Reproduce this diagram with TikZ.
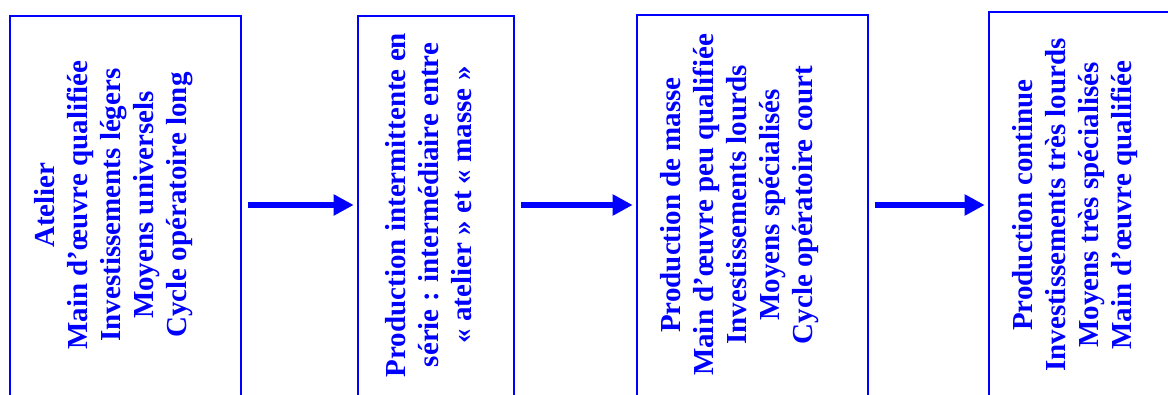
\documentclass[tikz,border=0pt]{standalone}
\usepackage{fontspec}
\setmainfont{Liberation Serif}
\usetikzlibrary{arrows.meta,positioning}
\definecolor{flowblue}{HTML}{0000FF}

\begin{document}
\begin{tikzpicture}[x=1pt,y=1pt,
  stage/.style={draw=flowblue,line width=1.6pt,minimum height=420pt,inner sep=0pt,anchor=north},
  stagetext/.style={rotate=90,text=flowblue,align=center,
    font=\fontsize{29}{33}\selectfont\bfseries},
  flow/.style={draw=flowblue,line width=6pt,-{Triangle[length=20pt,width=20pt]},
    shorten <=6pt,shorten >=3.5pt}]
  \useasboundingbox (0,0) rectangle (1168,394);
  \clip (0,0) rectangle (1168,394);
  % the four stages
  \node[stage,minimum width=231pt] (atelier) at (125.5,379) {};
  \node[stage,minimum width=156pt] (serie) at (436,379) {};
  \node[stage,minimum width=231pt] (masse) at (752.5,380) {};
  \node[stage,minimum width=231pt] (continue) at (1104.5,383) {};
  % texts
  \node[stagetext] (ateliertxt) at ([xshift=-12pt,yshift=-190pt]atelier.north)
    {Atelier\\Main d’œuvre qualifiée\\Investissements légers\\Moyens universels\\Cycle opératoire long};
  \node[stagetext] (serietxt) at ([xshift=-7pt,yshift=-190pt]serie.north)
    {Production intermittente en\\série : intermédiaire entre\\« atelier » et « masse »};
  \node[stagetext] (massetxt) at ([xshift=-13pt,yshift=-191pt]masse.north)
    {Production de masse\\Main d’œuvre peu qualifiée\\Investissements lourds\\Moyens spécialisés\\Cycle opératoire court};
  \node[stagetext] (continuetxt) at ([xshift=-29.5pt,yshift=-194pt]continue.north)
    {Production continue\\Investissements très lourds\\Moyens très spécialisés\\Main d’œuvre qualifiée};
  % arrows
  \draw[flow] (atelier.east |- ateliertxt) -- (serie.west |- ateliertxt);
  \draw[flow] (serie.east |- serietxt) -- (masse.west |- serietxt);
  \draw[flow] (masse.east |- massetxt) -- (continue.west |- massetxt);
\end{tikzpicture}
\end{document}
